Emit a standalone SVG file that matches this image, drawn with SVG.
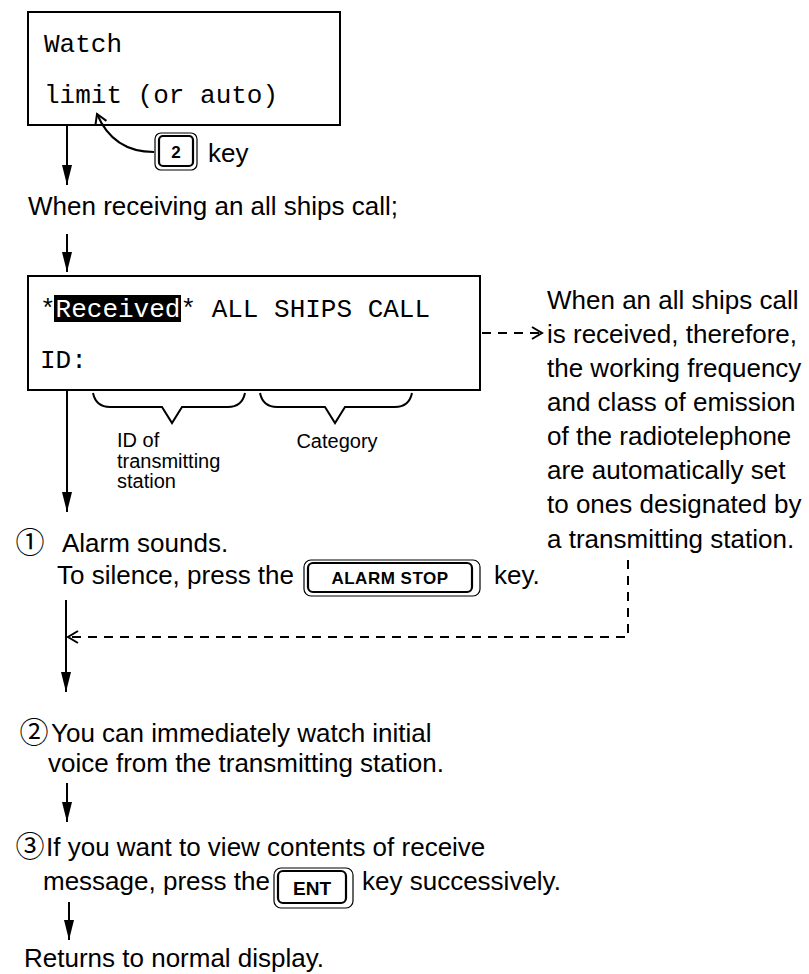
<svg xmlns="http://www.w3.org/2000/svg" width="809" height="974" viewBox="0 0 809 974">
<style>
.box{fill:#fff;stroke:#000;stroke-width:2}
.mono{font-family:"Liberation Mono","Courier New",monospace;font-size:26px;fill:#000}
.t{font-family:"Liberation Sans",Arial,"Noto Sans CJK JP",sans-serif;font-size:26px;fill:#000}
.c{font-family:"Noto Sans CJK JP","DejaVu Sans",sans-serif;font-size:29px;fill:#000;text-anchor:middle}
.s{font-family:"Liberation Sans",Arial,sans-serif;font-size:20px;fill:#000}
.ln{fill:none;stroke:#000;stroke-width:2}
.dash{fill:none;stroke:#000;stroke-width:2;stroke-dasharray:9,7}
.kout{fill:#fff;stroke:#000;stroke-width:1.2}
.kin{fill:#fff;stroke:#000;stroke-width:2.2}
.kt{font-family:"Liberation Sans",Arial,sans-serif;font-weight:bold;fill:#000;text-anchor:middle}
</style>
<defs>
<marker id="ah" markerWidth="20" markerHeight="10" refX="20" refY="5" orient="auto" markerUnits="userSpaceOnUse" viewBox="0 0 20 10">
<path d="M0,0 L20,5 L0,10 Z" fill="#000"/>
</marker>
<marker id="open" markerWidth="14" markerHeight="14" refX="12" refY="7" orient="auto" markerUnits="userSpaceOnUse" viewBox="0 0 14 14">
<path d="M2,1 L12,7 L2,13" fill="none" stroke="#000" stroke-width="2"/>
</marker>
</defs>

<g id="box-watch">
<rect class="box" x="28" y="12" width="312" height="113"/>
<text class="mono" x="44" y="52">Watch</text>
<text class="mono" x="44" y="103">limit (or auto)</text>
</g>

<g id="key-2">
<rect class="kout" x="155" y="133" width="42" height="37" rx="6"/>
<rect class="kin" x="159" y="136" width="34" height="30" rx="4"/>
<text class="kt" x="176" y="158" font-size="17">2</text>
<text class="t" x="208" y="162">key</text>
</g>

<g id="text-when-receiving">
<text class="t" x="28" y="215">When receiving an all ships call;</text>
</g>

<g id="box-received">
<rect class="box" x="28" y="276" width="452" height="114"/>
<rect x="54" y="295" width="127" height="27" fill="#000"/>
<text class="mono" x="40" y="317">*<tspan fill="#fff">Received</tspan>* ALL SHIPS CALL</text>
<text class="mono" x="40" y="368">ID:</text>
</g>

<g id="braces">
<path class="ln" stroke-width="1.8" d="M93,393 Q96,407 110,407 L162,407 L172,423 L182,407 L228,407 Q242,407 245,393"/>
<path class="ln" stroke-width="1.8" d="M260,393 Q263,407 277,407 L325,407 L335,423 L345,407 L395,407 Q409,407 412,393"/>
<text class="s" x="117" y="447">ID of</text>
<text class="s" x="117" y="468">transmitting</text>
<text class="s" x="117" y="488">station</text>
<text class="s" x="337" y="448" text-anchor="middle">Category</text>
</g>

<g id="note-right">
<text class="t" x="547" y="309">When an all ships call</text>
<text class="t" x="547" y="343">is received, therefore,</text>
<text class="t" x="547" y="377">the working frequency</text>
<text class="t" x="547" y="411">and class of emission</text>
<text class="t" x="547" y="445">of the radiotelephone</text>
<text class="t" x="547" y="479">are automatically set</text>
<text class="t" x="547" y="513">to ones designated by</text>
<text class="t" x="547" y="548">a transmitting station.</text>
</g>

<g id="step-1">
<text class="c" x="30" y="553">①</text>
<text class="t" x="62" y="552">Alarm sounds.</text>
<text class="t" x="57" y="584">To silence, press the</text>
<rect class="kout" x="304" y="560" width="176" height="36" rx="7"/>
<rect class="kin" x="308" y="563" width="164" height="29" rx="5"/>
<text class="kt" x="390" y="584" font-size="17" letter-spacing="0.5">ALARM STOP</text>
<text class="t" x="494" y="584">key.</text>
</g>

<g id="step-2">
<text class="c" x="34" y="743">②</text>
<text class="t" x="51" y="742">You can immediately watch initial</text>
<text class="t" x="48" y="772">voice from the transmitting station.</text>
</g>

<g id="step-3">
<text class="c" x="30" y="857">③</text>
<text class="t" x="46" y="856">If you want to view contents of receive</text>
<text class="t" x="43" y="890">message, press the</text>
<rect class="kout" x="274" y="868" width="79" height="40" rx="7"/>
<rect class="kin" x="278" y="871" width="68" height="32" rx="5"/>
<text class="kt" x="312" y="895" font-size="19">ENT</text>
<text class="t" x="362" y="890">key successively.</text>
</g>

<g id="text-returns">
<text class="t" x="24" y="967">Returns to normal display.</text>
</g>

<g id="connectors">
<line class="ln" x1="67" y1="125" x2="67" y2="185" marker-end="url(#ah)"/>
<path class="ln" stroke-width="1.6" d="M154,152 C128,152 108,140 97,114" marker-end="url(#open)"/>
<line class="ln" x1="67" y1="234" x2="67" y2="272" marker-end="url(#ah)"/>
<line class="ln" x1="67" y1="390" x2="67" y2="512" marker-end="url(#ah)"/>
<line class="ln" x1="66" y1="600" x2="66" y2="692" marker-end="url(#ah)"/>
<line class="ln" x1="67" y1="783" x2="67" y2="822" marker-end="url(#ah)"/>
<line class="ln" x1="69" y1="902" x2="69" y2="940" marker-end="url(#ah)"/>
<line class="dash" x1="482" y1="333" x2="542" y2="333" marker-end="url(#open)"/>
<path class="dash" d="M628,560 L628,637 L68,637" marker-end="url(#open)"/>
</g>
</svg>
